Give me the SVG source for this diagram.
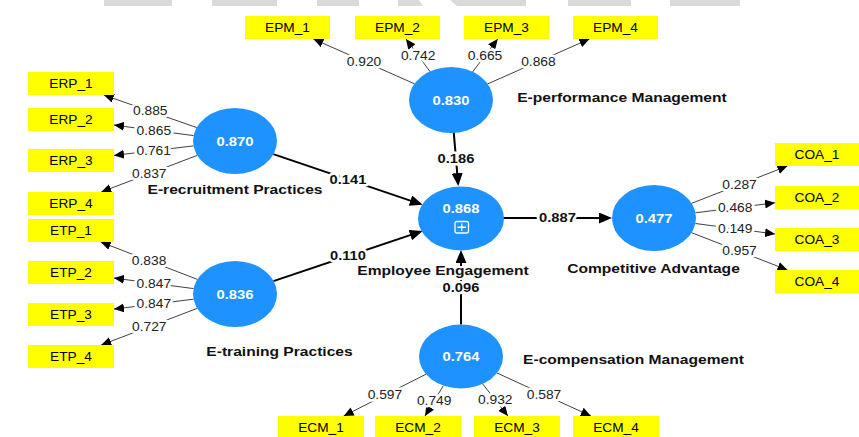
<svg xmlns="http://www.w3.org/2000/svg" width="859" height="437" viewBox="0 0 859 437">
<style>
text{font-family:"Liberation Sans",Arial,sans-serif;text-anchor:middle;transform-box:fill-box;transform-origin:center}
.box{fill:#ffff00}
.bt{font-size:12px;fill:#000;transform:scaleX(1.14)}
.cv{font-size:13px;font-weight:bold;fill:#fff;transform:scaleX(1.14)}
.nm{font-size:13px;font-weight:bold;fill:#111;stroke:#fff;stroke-width:4;stroke-linejoin:round;paint-order:stroke;transform:scaleX(1.2)}
.lv{fill:#1e92ff}
.ol{stroke:#404040;stroke-width:1;fill:none;marker-end:url(#ao)}
.il{stroke:#000;stroke-width:2;fill:none;marker-end:url(#ai)}
.ow{font-size:12px;fill:#222;stroke:#fff;stroke-width:5;stroke-linejoin:round;paint-order:stroke;transform:scaleX(1.15)}
.iw{font-size:13px;font-weight:bold;fill:#111;stroke:#fff;stroke-width:5;stroke-linejoin:round;paint-order:stroke;transform:scaleX(1.13)}
.wm{fill:#d9d9d9}
</style>
<defs>
<marker id="ao" markerUnits="userSpaceOnUse" markerWidth="10" markerHeight="9" refX="10" refY="4.5" orient="auto"><path d="M0,0L10,4.5L0,9z" fill="#000"/></marker>
<marker id="ai" markerUnits="userSpaceOnUse" markerWidth="13" markerHeight="11" refX="10" refY="5.5" orient="auto"><path d="M0,0L13,5.5L0,11z" fill="#000"/></marker>
</defs>
<rect width="859" height="437" fill="#fff"/>
<g id="watermark">
<rect class="wm" x="104" y="0" width="68" height="6"/>
<rect class="wm" x="212" y="0" width="65" height="6"/>
<rect class="wm" x="317" y="0" width="42" height="6"/>
<polygon class="wm" points="398,0 419,0 423,6 398,6"/>
<polygon class="wm" points="450,0 526,0 526,6 457,6"/>
<rect class="wm" x="568" y="0" width="63" height="6"/>
<rect class="wm" x="670" y="0" width="70" height="6"/>
</g>
<g id="connectors">
<line class="ol" x1="414.7" y1="83.9" x2="313.4" y2="39"/>
<line class="ol" x1="430.4" y1="72.1" x2="406" y2="39"/>
<line class="ol" x1="472.2" y1="72.4" x2="497.7" y2="39"/>
<line class="ol" x1="487.4" y1="84" x2="589.4" y2="39"/>
<line class="ol" x1="196.8" y1="127.6" x2="103.8" y2="95"/>
<line class="ol" x1="193.6" y1="135.6" x2="114" y2="125.1"/>
<line class="ol" x1="193.5" y1="145.9" x2="114" y2="155.4"/>
<line class="ol" x1="197.4" y1="155.3" x2="101.2" y2="192"/>
<line class="ol" x1="197.6" y1="279.5" x2="100.7" y2="242"/>
<line class="ol" x1="193.6" y1="288.6" x2="114" y2="278.1"/>
<line class="ol" x1="193.6" y1="299.2" x2="114" y2="309.1"/>
<line class="ol" x1="197.4" y1="308.3" x2="101.2" y2="345"/>
<line class="ol" x1="691.4" y1="203.4" x2="787.5" y2="166"/>
<line class="ol" x1="695.4" y1="212.8" x2="775" y2="202.8"/>
<line class="ol" x1="695.4" y1="223.5" x2="775" y2="234"/>
<line class="ol" x1="691.4" y1="232.6" x2="787.5" y2="270"/>
<line class="ol" x1="426" y1="374.2" x2="343.7" y2="416"/>
<line class="ol" x1="443.4" y1="385.6" x2="425" y2="416"/>
<line class="ol" x1="482.6" y1="383.9" x2="507.9" y2="416"/>
<line class="ol" x1="497" y1="373" x2="590.9" y2="416"/>
<line class="il" x1="273.3" y1="154.1" x2="419.9" y2="203.9"/>
<line class="il" x1="273.4" y1="281.1" x2="419.8" y2="231.9"/>
<line class="il" x1="453.7" y1="131.9" x2="458.05" y2="183.1"/>
<line class="il" x1="461" y1="324.5" x2="461" y2="253"/>
<line class="il" x1="503" y1="218" x2="609" y2="218"/>
<text class="ow" x="364" y="65.7">0.920</text>
<text class="ow" x="418.2" y="59.8">0.742</text>
<text class="ow" x="485" y="59.9">0.665</text>
<text class="ow" x="538.4" y="65.7">0.868</text>
<text class="ow" x="150.3" y="115.5">0.885</text>
<text class="ow" x="153.8" y="134.6">0.865</text>
<text class="ow" x="153.7" y="154.9">0.761</text>
<text class="ow" x="149.3" y="177.9">0.837</text>
<text class="ow" x="149.1" y="264.9">0.838</text>
<text class="ow" x="153.8" y="287.6">0.847</text>
<text class="ow" x="153.8" y="308.4">0.847</text>
<text class="ow" x="149.3" y="330.9">0.727</text>
<text class="ow" x="739.5" y="188.9">0.287</text>
<text class="ow" x="735.2" y="212">0.468</text>
<text class="ow" x="735.2" y="233">0.149</text>
<text class="ow" x="739.5" y="255.5">0.957</text>
<text class="ow" x="384.9" y="399.3">0.597</text>
<text class="ow" x="434.2" y="405">0.749</text>
<text class="ow" x="495.3" y="404.2">0.932</text>
<text class="ow" x="544" y="398.7">0.587</text>
<text class="iw" x="348" y="184">0.141</text>
<text class="iw" x="348" y="260.5">0.110</text>
<text class="iw" x="456" y="163.5">0.186</text>
<text class="iw" x="461" y="291.8">0.096</text>
<text class="iw" x="557.5" y="222.5">0.887</text>
</g>
<g id="EPM">
<ellipse class="lv" cx="451" cy="100" rx="42" ry="33"/>
<text class="cv" x="451" y="105.5">0.830</text>
<text class="nm" x="622" y="102">E-performance Management</text>
</g>
<g id="ERP">
<ellipse class="lv" cx="235" cy="141" rx="42" ry="33"/>
<text class="cv" x="235" y="146">0.870</text>
<text class="nm" x="235" y="194">E-recruitment Practices</text>
</g>
<g id="ETP">
<ellipse class="lv" cx="235" cy="294" rx="42" ry="33"/>
<text class="cv" x="235" y="299">0.836</text>
<text class="nm" x="279.5" y="356">E-training Practices</text>
</g>
<g id="EE">
<ellipse class="lv" cx="461" cy="218.5" rx="43" ry="32"/>
<text class="cv" x="461" y="212.7">0.868</text>
<rect x="455" y="221.5" width="13.5" height="11.5" rx="2" fill="none" stroke="#fff" stroke-width="1.3"/>
<path d="M461.75,223.5v7.5M457.5,227.25h8.5" stroke="#fff" stroke-width="1.3"/>
<text class="nm" x="443" y="275">Employee Engagement</text>
</g>
<g id="COA">
<ellipse class="lv" cx="654" cy="218" rx="42" ry="33"/>
<text class="cv" x="654" y="223">0.477</text>
<text class="nm" x="653.5" y="273">Competitive Advantage</text>
</g>
<g id="ECM">
<ellipse class="lv" cx="461" cy="356.5" rx="42" ry="32"/>
<text class="cv" x="461" y="361.5">0.764</text>
<text class="nm" x="633.5" y="364">E-compensation Management</text>
</g>
<g id="EPM_1"><rect class="box" x="245" y="16" width="85" height="23"/><text class="bt" x="287.5" y="31.8">EPM_1</text></g>
<g id="EPM_2"><rect class="box" x="355" y="16" width="85" height="23"/><text class="bt" x="397.5" y="31.8">EPM_2</text></g>
<g id="EPM_3"><rect class="box" x="464" y="16" width="85" height="23"/><text class="bt" x="506.5" y="31.8">EPM_3</text></g>
<g id="EPM_4"><rect class="box" x="573" y="16" width="85" height="23"/><text class="bt" x="615.5" y="31.8">EPM_4</text></g>
<g id="ERP_1"><rect class="box" x="28" y="72" width="86" height="23"/><text class="bt" x="71" y="87.8">ERP_1</text></g>
<g id="ERP_2"><rect class="box" x="28" y="108" width="86" height="23"/><text class="bt" x="71" y="123.8">ERP_2</text></g>
<g id="ERP_3"><rect class="box" x="28" y="149" width="86" height="23"/><text class="bt" x="71" y="164.8">ERP_3</text></g>
<g id="ERP_4"><rect class="box" x="28" y="192" width="86" height="23"/><text class="bt" x="71" y="207.8">ERP_4</text></g>
<g id="ETP_1"><rect class="box" x="28" y="219" width="86" height="23"/><text class="bt" x="71" y="234.8">ETP_1</text></g>
<g id="ETP_2"><rect class="box" x="28" y="261" width="86" height="23"/><text class="bt" x="71" y="276.8">ETP_2</text></g>
<g id="ETP_3"><rect class="box" x="28" y="303" width="86" height="23"/><text class="bt" x="71" y="318.8">ETP_3</text></g>
<g id="ETP_4"><rect class="box" x="28" y="345" width="86" height="23"/><text class="bt" x="71" y="360.8">ETP_4</text></g>
<g id="COA_1"><rect class="box" x="775" y="143" width="84" height="23"/><text class="bt" x="817" y="158.8">COA_1</text></g>
<g id="COA_2"><rect class="box" x="775" y="186" width="84" height="23"/><text class="bt" x="817" y="201.8">COA_2</text></g>
<g id="COA_3"><rect class="box" x="775" y="228" width="84" height="23"/><text class="bt" x="817" y="243.8">COA_3</text></g>
<g id="COA_4"><rect class="box" x="775" y="270" width="84" height="23"/><text class="bt" x="817" y="285.8">COA_4</text></g>
<g id="ECM_1"><rect class="box" x="278" y="416" width="86" height="23"/><text class="bt" x="321" y="431.8">ECM_1</text></g>
<g id="ECM_2"><rect class="box" x="375" y="416" width="86" height="23"/><text class="bt" x="418" y="431.8">ECM_2</text></g>
<g id="ECM_3"><rect class="box" x="474" y="416" width="86" height="23"/><text class="bt" x="517" y="431.8">ECM_3</text></g>
<g id="ECM_4"><rect class="box" x="573" y="416" width="86" height="23"/><text class="bt" x="616" y="431.8">ECM_4</text></g>
</svg>
